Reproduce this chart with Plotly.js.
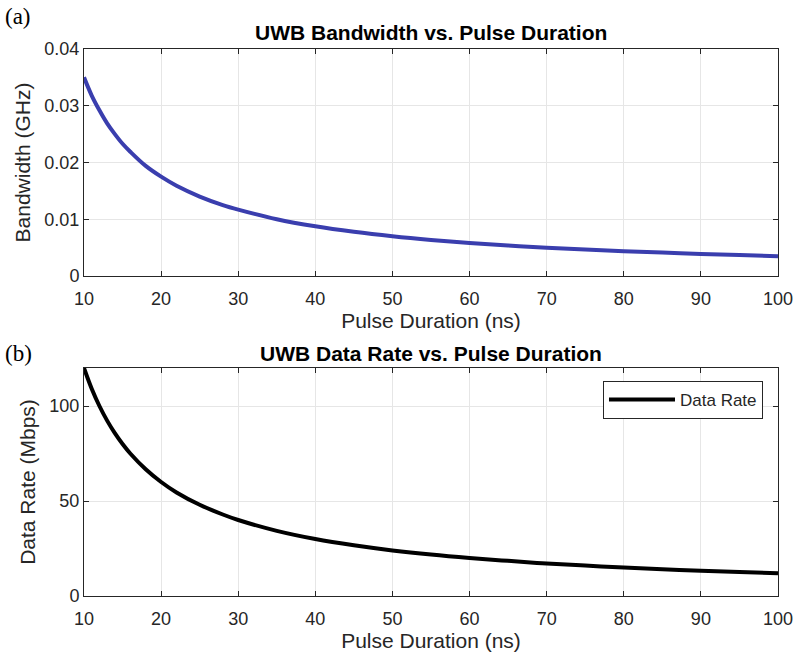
<!DOCTYPE html>
<html>
<head>
<meta charset="utf-8">
<script src="https://cdn.plot.ly/plotly-3.0.1.min.js"></script>
<style>html,body{margin:0;padding:0;background:#fff;}#chart{width:796px;height:656px;}</style>
</head>
<body>
<div id="chart"></div>
<script>
// Pulse duration (ns)
const pulseDuration = [10,11,12,13,14,15,16,18,20,22,25,28,30,35,40,45,50,55,60,65,70,75,80,85,90,95,100];
// Bandwidth (GHz)
const bandwidthGHz = [0.035,0.0318,0.0292,0.0269,0.025,0.0233,0.0219,0.0194,0.0175,0.0159,0.014,0.0125,0.0117,0.01,0.00875,0.00778,0.007,0.00636,0.00583,0.00538,0.005,0.00467,0.00438,0.00412,0.00389,0.00368,0.0035];
// Data rate (Mbps)
const dataRateMbps = [120,109.1,100,92.3,85.7,80,75,66.7,60,54.5,48,42.9,40,34.3,30,26.7,24,21.8,20,18.5,17.1,16,15,14.1,13.3,12.6,12];
const xTicks = [10,20,30,40,50,60,70,80,90,100];
const bwTicks = [0,0.01,0.02,0.03,0.04];
const bwTickText = ['0','0.01','0.02','0.03','0.04'];
const drTicks = [0,50,100];
const titles = ['UWB Bandwidth vs. Pulse Duration','UWB Data Rate vs. Pulse Duration'];
const panelLabels = ['(a)','(b)'];

const txt = '#262626';
const sans = 'Liberation Sans, Arial, sans-serif';
const baseAxis = {
  showline:true, linecolor:txt, linewidth:1, mirror:'ticks',
  ticks:'inside', ticklen:5, tickcolor:txt,
  showgrid:true, gridcolor:'#e6e6e6', gridwidth:1, zeroline:false,
  tickfont:{family:sans, size:18, color:txt},
};
const xd = [84/796, 778/796];
const data = [
  {x:pulseDuration, y:bandwidthGHz, type:'scatter', mode:'lines', line:{color:'#3a3eae', width:4, shape:'spline'}, showlegend:false, xaxis:'x', yaxis:'y'},
  {x:pulseDuration, y:dataRateMbps, type:'scatter', mode:'lines', name:'Data Rate', line:{color:'#000000', width:4, shape:'spline'}, xaxis:'x2', yaxis:'y2'}
];
const axTitleFont = {family:sans, size:21, color:txt};
const layout = {
  width:796, height:656,
  margin:{l:0,r:0,t:0,b:0},
  paper_bgcolor:'#fff', plot_bgcolor:'#fff',
  xaxis:Object.assign({}, baseAxis, {domain:xd, anchor:'y', range:[10,100], tickvals:xTicks, ticklabelstandoff:6,
    title:{text:'Pulse Duration (ns)', font:axTitleFont, standoff:4}}),
  yaxis:Object.assign({}, baseAxis, {domain:[380/656, 607/656], anchor:'x', range:[0,0.04], tickvals:bwTicks, ticktext:bwTickText,
    title:{text:'Bandwidth (GHz)', font:axTitleFont, standoff:8}}),
  xaxis2:Object.assign({}, baseAxis, {domain:xd, anchor:'y2', range:[10,100], tickvals:xTicks, ticklabelstandoff:6,
    title:{text:'Pulse Duration (ns)', font:axTitleFont, standoff:4}}),
  yaxis2:Object.assign({}, baseAxis, {domain:[60/656, 288/656], anchor:'x2', range:[0,120], tickvals:drTicks,
    title:{text:'Data Rate (Mbps)', font:axTitleFont, standoff:8}}),
  legend:{x:603/796, y:1-381/656, xanchor:'left', yanchor:'top', bgcolor:'#fff', bordercolor:txt, borderwidth:1,
    itemwidth:66, font:{family:sans, size:17, color:txt}},
  annotations:[
    {text:'<b>'+titles[0]+'</b>', xref:'paper', yref:'paper', x:(xd[0]+xd[1])/2, y:1-33/656, xanchor:'center', yanchor:'middle', showarrow:false,
     font:{family:sans, size:21, color:'#000'}},
    {text:'<b>'+titles[1]+'</b>', xref:'paper', yref:'paper', x:(xd[0]+xd[1])/2, y:1-353/656, xanchor:'center', yanchor:'middle', showarrow:false,
     font:{family:sans, size:21, color:'#000'}},
    {text:panelLabels[0], xref:'paper', yref:'paper', x:3/796, y:1-17/656, xanchor:'left', yanchor:'middle', showarrow:false,
     font:{family:'Liberation Serif, DejaVu Serif, serif', size:23, color:'#000'}},
    {text:panelLabels[1], xref:'paper', yref:'paper', x:3/796, y:1-353/656, xanchor:'left', yanchor:'middle', showarrow:false,
     font:{family:'Liberation Serif, DejaVu Serif, serif', size:23, color:'#000'}}
  ]
};
Plotly.newPlot('chart', data, layout, {displayModeBar:false, staticPlot:true});
</script>
</body>
</html>
